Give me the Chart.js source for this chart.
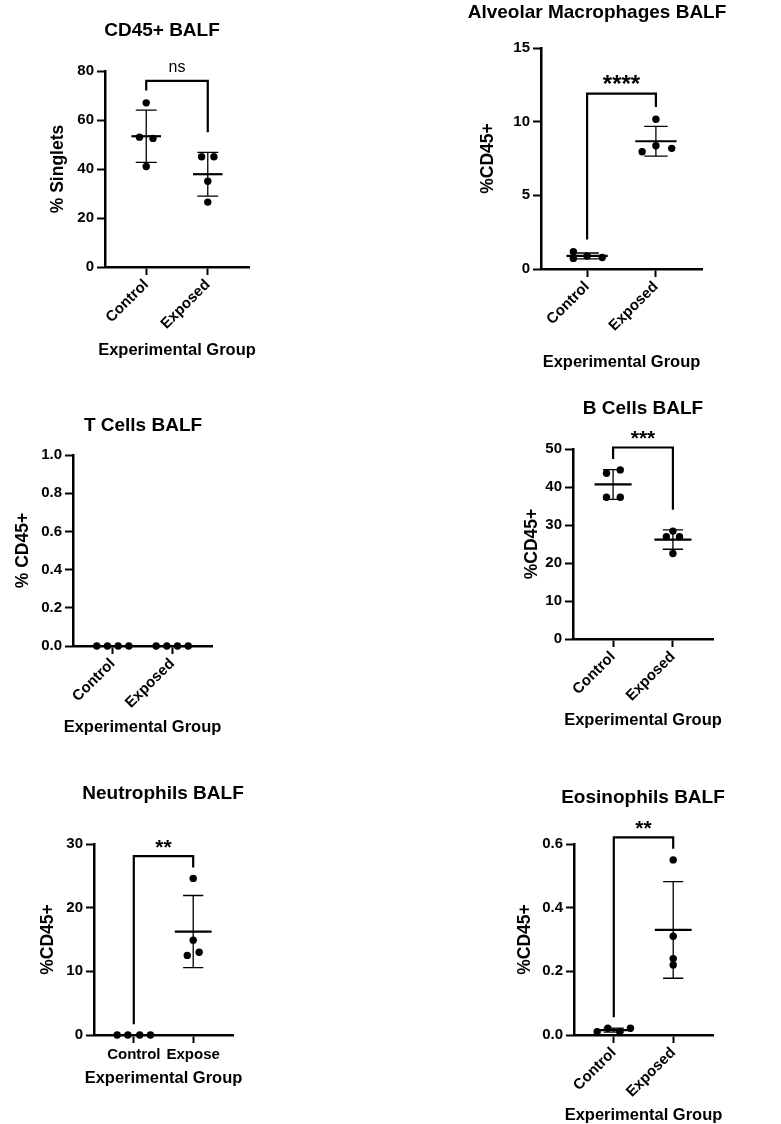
<!DOCTYPE html>
<html><head><meta charset="utf-8">
<script src="https://cdn.jsdelivr.net/npm/chart.js@4.4.1/dist/chart.umd.min.js"></script>
<style>
html,body{margin:0;padding:0;background:#fff;overflow:hidden;width:781px;height:1124px;position:relative;}
canvas{position:absolute;}
</style></head><body>
<script>
// ================= DATA =================
const groups = ['Control', 'Exposed'];
const neutroTickLabels = ['Control', 'Expose'];
const xAxisTitle = 'Experimental Group';

const cd45Control = [67, 53, 52.5, 41];
const cd45Exposed = [45, 45, 35, 26.5];
const cd45Ticks = [0, 20, 40, 60, 80];

const amControl = [1.17, 0.72, 0.88, 0.78];
const amExposed = [10.16, 7.96, 8.37, 8.19];
const amTicks = [0, 5, 10, 15];

const tControl = [0, 0, 0, 0];
const tExposed = [0, 0, 0, 0];
const tTicks = [0, 0.2, 0.4, 0.6, 0.8, 1.0];

const bControl = [44.5, 43.6, 37.3, 37.3];
const bExposed = [28.4, 26.9, 26.9, 22.5];
const bTicks = [0, 10, 20, 30, 40, 50];

const neutControl = [0, 0, 0, 0];
const neutExposed = [24.6, 14.9, 12.5, 13.0];
const neutTicks = [0, 10, 20, 30];

const eosControl = [0.010, 0.021, 0.010, 0.021];
const eosExposed = [0.55, 0.31, 0.24, 0.22];
const eosTicks = [0, 0.2, 0.4, 0.6];

// significance brackets (levels in data units)
const cd45Sig = {text: 'ns', top: 76, left: 72, right: 55};
const amSig = {text: '****', top: 11.9, left: 2.0, right: 11.0};
const bSig = {text: '***', top: 50.4, left: 47.4, right: 34};
const neutSig = {text: '**', top: 28.1, left: 1.7, right: 26.3};
const eosSig = {text: '**', top: 0.621, left: 0.056, right: 0.585};

// ================= STYLE / LAYOUT =================
const FONT = "'Liberation Sans', Arial, Helvetica, sans-serif";
const TITLE_SIZE = 19, YT_SIZE = 17.5, XT_SIZE = 16.5, TICK_SIZE = 15;

const panels = [
  {title: 'CD45+ BALF', yTitle: '% Singlets', ticks: cd45Ticks, dec: 0, g: [cd45Control, cd45Exposed], labels: groups, sig: cd45Sig, rot: 45, starSize: 21,
   jit: [[0, -0.11, 0.11, 0], [-0.1, 0.1, 0, 0]], meanHalf: 0.24,
   box: {l: 105, t: 71, r: 249, b: 267, titleX: 162, titleY: 30, yTitleX: 58, xTitleY: 350}},
  {title: 'Alveolar Macrophages BALF', yTitle: '%CD45+', ticks: amTicks, dec: 0, g: [amControl, amExposed], labels: groups, sig: amSig, rot: 45, starSize: 24,
   jit: [[-0.2, -0.2, 0, 0.22], [0, -0.2, 0, 0.23]], meanHalf: 0.3,
   box: {l: 541, t: 48, r: 702, b: 269, titleX: 597, titleY: 12, yTitleX: 488, xTitleY: 362}},
  {title: 'T Cells BALF', yTitle: '% CD45+', ticks: tTicks, dec: 1, g: [tControl, tExposed], labels: groups, sig: null, rot: 45, starSize: 21,
   jit: [[-0.27, -0.09, 0.09, 0.27], [-0.27, -0.09, 0.09, 0.27]], meanHalf: 0.3,
   box: {l: 73, t: 455, r: 212, b: 646, titleX: 143, titleY: 425, yTitleX: 23, xTitleY: 727}},
  {title: 'B Cells BALF', yTitle: '%CD45+', ticks: bTicks, dec: 0, g: [bControl, bExposed], labels: groups, sig: bSig, rot: 45, starSize: 21,
   jit: [[0.12, -0.11, -0.11, 0.12], [0, -0.11, 0.11, 0]], meanHalf: 0.31,
   box: {l: 573, t: 449, r: 713, b: 639, titleX: 643, titleY: 408, yTitleX: 532, xTitleY: 720}},
  {title: 'Neutrophils BALF', yTitle: '%CD45+', ticks: neutTicks, dec: 0, g: [neutControl, neutExposed], labels: neutroTickLabels, sig: neutSig, rot: 0, starSize: 21,
   jit: [[-0.28, -0.1, 0.1, 0.28], [0, 0, -0.1, 0.1]], meanHalf: 0.31,
   box: {l: 94, t: 844, r: 233, b: 1035, titleX: 163, titleY: 793, yTitleX: 48, xTitleY: 1078}},
  {title: 'Eosinophils BALF', yTitle: '%CD45+', ticks: eosTicks, dec: 1, g: [eosControl, eosExposed], labels: groups, sig: eosSig, rot: 45, starSize: 21,
   jit: [[-0.28, -0.1, 0.1, 0.28], [0, 0, 0, 0]], meanHalf: 0.31,
   box: {l: 574, t: 844, r: 713, b: 1035, titleX: 643, titleY: 797, yTitleX: 525, xTitleY: 1115}}
];

function meanSdPlugin(p) {
  return {
    id: 'meanSd',
    afterDatasetsDraw(chart) {
      const {ctx, scales: {x, y}} = chart;
      ctx.save();
      ctx.strokeStyle = '#000';
      p.g.forEach((vals, gi) => {
        const n = vals.length;
        const m = vals.reduce((a, b) => a + b, 0) / n;
        const sd = Math.sqrt(vals.reduce((a, b) => a + (b - m) * (b - m), 0) / (n - 1));
        const cx = x.getPixelForValue(gi + 1);
        const mw = x.getPixelForValue(gi + 1 + p.meanHalf) - cx;
        const cw = x.getPixelForValue(gi + 1 + 0.17) - cx;
        const yt = y.getPixelForValue(m + sd), yb = y.getPixelForValue(m - sd), ym = y.getPixelForValue(m);
        ctx.lineWidth = 1.3;
        ctx.beginPath();
        ctx.moveTo(cx, yt); ctx.lineTo(cx, yb);
        ctx.moveTo(cx - cw, yt); ctx.lineTo(cx + cw, yt);
        ctx.moveTo(cx - cw, yb); ctx.lineTo(cx + cw, yb);
        ctx.stroke();
        ctx.lineWidth = 2.2;
        ctx.beginPath();
        ctx.moveTo(cx - mw, ym); ctx.lineTo(cx + mw, ym);
        ctx.stroke();
      });
      ctx.restore();
    }
  };
}

function bracketPlugin(p) {
  return {
    id: 'bracket',
    afterDraw(chart) {
      const s = p.sig;
      if (!s) return;
      const {ctx, scales: {x, y}} = chart;
      const x1 = x.getPixelForValue(1), x2 = x.getPixelForValue(2);
      const yt = y.getPixelForValue(s.top), yl = y.getPixelForValue(s.left), yr = y.getPixelForValue(s.right);
      ctx.save();
      ctx.lineWidth = 2.2; ctx.strokeStyle = '#000'; ctx.lineJoin = 'miter';
      ctx.beginPath();
      ctx.moveTo(x1, yl); ctx.lineTo(x1, yt); ctx.lineTo(x2, yt); ctx.lineTo(x2, yr);
      ctx.stroke();
      ctx.fillStyle = '#000'; ctx.textAlign = 'center'; ctx.textBaseline = 'alphabetic';
      const isNs = s.text === 'ns';
      ctx.font = isNs ? ('16px ' + FONT) : ('bold ' + p.starSize + 'px ' + FONT);
      ctx.fillText(s.text, (x1 + x2) / 2, yt - (isNs ? 9 : 2));
      ctx.restore();
    }
  };
}

function xTitlePlugin(p, yCanvas) {
  return {
    id: 'xTitle',
    afterDraw(chart) {
      const {ctx, chartArea} = chart;
      ctx.save();
      ctx.fillStyle = '#000'; ctx.textAlign = 'center'; ctx.textBaseline = 'middle';
      ctx.font = 'bold ' + XT_SIZE + 'px ' + FONT;
      ctx.fillText(xAxisTitle, (chartArea.left + chartArea.right) / 2, yCanvas);
      ctx.restore();
    }
  };
}

function build(p) {
  const B = p.box;
  const tLH = TITLE_SIZE * 1.2, yLH = YT_SIZE * 1.2, xLH = XT_SIZE * 1.2;
  const A = 2 * B.titleX - B.r;
  const x0 = Math.floor(Math.min(A, B.yTitleX) - 40);
  const W = Math.round(2 * (B.titleX - x0));
  const yw = B.l - x0;
  const rw = x0 + W - B.r;
  const y0 = Math.round(B.titleY - tLH / 2);
  const H = Math.round(B.xTitleY + xLH / 2 + 4 - y0);
  const xh = y0 + H - B.b;
  const titlePadBottom = B.t - y0 - tLH;
  const yTitlePad = B.yTitleX - x0 - yLH / 2;

  const cv = document.createElement('canvas');
  cv.width = W; cv.height = H;
  cv.style.left = x0 + 'px'; cv.style.top = y0 + 'px';
  cv.style.width = W + 'px'; cv.style.height = H + 'px';
  document.body.appendChild(cv);

  const pts = [];
  p.g.forEach((vals, gi) => vals.forEach((v, i) => pts.push({x: gi + 1 + p.jit[gi][i], y: v})));

  const tickFont = {family: FONT, size: TICK_SIZE, weight: 'bold'};
  const gridOpts = {display: true, drawOnChartArea: false, drawTicks: true, tickLength: 8, tickWidth: 2, tickColor: '#000', color: '#000'};
  const borderOpts = {display: true, width: 2.5, color: '#000'};

  new Chart(cv, {
    type: 'scatter',
    data: {datasets: [{data: pts, pointRadius: 3.7, pointHoverRadius: 3.7, pointBackgroundColor: '#000', pointBorderColor: '#000', pointBorderWidth: 0, clip: false}]},
    options: {
      responsive: false, animation: false, devicePixelRatio: 1,
      events: [],
      layout: {padding: 0},
      plugins: {
        legend: {display: false}, tooltip: {enabled: false},
        title: {display: true, text: p.title, color: '#000',
                font: {family: FONT, size: TITLE_SIZE, weight: 'bold', lineHeight: 1.2},
                padding: {top: 0, bottom: titlePadBottom}}
      },
      scales: {
        x: {
          type: 'linear', min: 0.33, max: 2.67,
          afterFit: s => { s.height = xh; },
          afterBuildTicks: s => { s.ticks = [{value: 1}, {value: 2}]; },
          ticks: {callback: (v, i) => p.labels[i], autoSkip: false, minRotation: p.rot, maxRotation: p.rot,
                  color: '#000', font: tickFont, padding: p.rot ? 1 : 3},
          grid: gridOpts, border: borderOpts,
          title: {display: false}
        },
        y: {
          type: 'linear', position: 'left', min: p.ticks[0], max: p.ticks[p.ticks.length - 1],
          afterFit: s => { s.width = yw; },
          afterBuildTicks: s => { s.ticks = p.ticks.map(v => ({value: v})); },
          ticks: {callback: v => Number(v).toFixed(p.dec), color: '#000', font: tickFont, padding: 3},
          grid: gridOpts, border: borderOpts,
          title: {display: true, text: p.yTitle, color: '#000',
                  font: {family: FONT, size: YT_SIZE, weight: 'bold', lineHeight: 1.2}, padding: {top: yTitlePad, bottom: 0}}
        },
        spacer: {
          type: 'linear', position: 'right', display: true,
          afterFit: s => { s.width = rw; },
          ticks: {display: false}, grid: {display: false, drawTicks: false}, border: {display: false}, title: {display: false}
        }
      }
    },
    plugins: [meanSdPlugin(p), bracketPlugin(p), xTitlePlugin(p, B.xTitleY - y0)]
  });
}

panels.forEach(build);
</script>
</body></html>
